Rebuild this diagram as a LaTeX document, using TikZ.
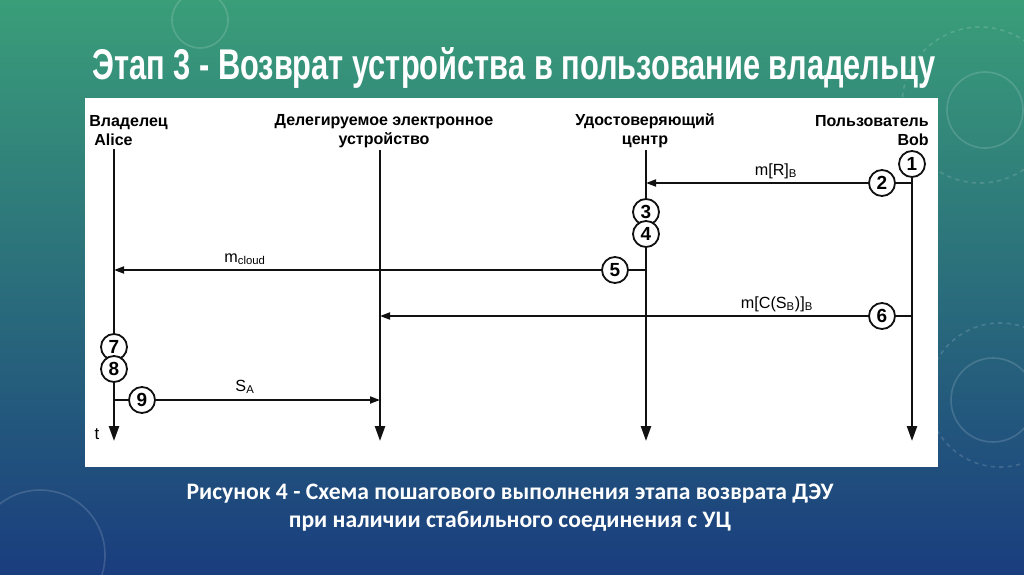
\documentclass[tikz,border=0pt]{standalone}
\usepackage{fontspec}
\setmainfont{Liberation Sans}
\newfontfamily\capfont{Carlito}
\usepackage{xcolor}
\definecolor{cBgTop}{HTML}{3A9E79}
\definecolor{cBgMid}{HTML}{287A82}
\definecolor{cBgBot}{HTML}{1A3D7E}
\definecolor{cLine}{HTML}{111111}
\usetikzlibrary{positioning,arrows.meta,calc}
\newlength\pxu
\setlength\pxu{0.025cm}
\tikzset{
  life-line/.style={line width=0.6mm,draw=cLine,-{Triangle[length=3.75mm,width=2.5mm]}},
  msg-line/.style={line width=0.45mm,draw=cLine},
  msg-arrow/.style={msg-line,-{Triangle[length=2.5mm,width=1.75mm]}},
  node-step/.style={draw=cLine,line width=0.45mm,circle,fill=white,
    minimum size=6.5mm,inner sep=0pt,font=\fontsize{13.5}{13.5}\selectfont\bfseries},
  node-head/.style={font=\fontsize{11.4}{13.5}\selectfont\bfseries,inner sep=0pt},
  node-msg/.style={font=\fontsize{11.5}{13}\selectfont,inner sep=0pt},
  deco/.style={draw=white,opacity=0.15,line width=0.4mm},
}

\begin{document}
\begin{tikzpicture}[x=0.025cm,y=-0.025cm]
  \useasboundingbox (0,0) rectangle (1024,574);
  \shade[top color=cBgTop,middle color=cBgMid,bottom color=cBgBot] (0,0) rectangle (1024,574);
  % decorative rings
  \draw[deco] (985,110) circle (38);
  \draw[deco,dashed] (980,105) circle (78);
  \draw[deco] (993,400) circle (42);
  \draw[deco,dashed] (1000,395) circle (72);
  \draw[deco] (40,555) circle (65);
  \draw[deco] (200,20) circle (28);

  \node[anchor=base west,inner sep=0pt,text=white] (title) at (92,79)
    {\resizebox{843\pxu}{32\pxu}{\bfseries Этап 3 - Возврат устройства в пользование владельцу}};

  \fill[white] (85,98) rectangle (938,467);

  % participants
  \node[node-head,align=left,anchor=west]   (hAlice)  at (89,131)  {Владелец\\\hspace{5\pxu}Alice};
  \node[node-head,align=center]             (hDevice) at (384,131) {Делегируемое электронное\\устройство};
  \node[node-head,align=center]             (hCa)     at (645,131) {Удостоверяющий\\центр};
  \node[node-head,align=right,anchor=east]  (hBob)    at (929,131) {Пользователь\\Bob};

  \coordinate (aliceT) at (114,149);  \coordinate (aliceB) at (114,441);
  \coordinate (devT)   at (380,150);  \coordinate (devB)   at (380,441);
  \coordinate (caT)    at (646,150);  \coordinate (caB)    at (646,441);
  \coordinate (bobB)   at (912,441);

  \draw[life-line] (aliceT) -- (aliceB);
  \draw[life-line] (devT) -- (devB);
  \draw[life-line] (caT) -- (caB);

  \node[node-step] (s1) at (912,164) {1};
  \draw[life-line] (s1.south) -- (bobB);

  \node[node-step] (s2) at (882,183) {2};
  \node[node-step] (s3) at (646,212) {3};
  \node[node-step] (s4) at (646,234) {4};
  \node[node-step] (s5) at (615,270) {5};
  \node[node-step] (s6) at (882,316) {6};
  \node[node-step] (s7) at (114,347) {7};
  \node[node-step] (s8) at (114,369) {8};
  \node[node-step] (s9) at (142,400) {9};

  % messages
  \draw[msg-line]  (s2.east) -- (s2 -| bobB);
  \draw[msg-arrow] (s2.west) -- (s2 -| caB);
  \draw[msg-line]  (s5.east) -- (s5 -| caB);
  \draw[msg-arrow] (s5.west) -- (s5 -| aliceB);
  \draw[msg-line]  (s6.east) -- (s6 -| bobB);
  \draw[msg-arrow] (s6.west) -- (s6 -| devB);
  \draw[msg-line]  (s9.west) -- (s9 -| aliceB);
  \draw[msg-arrow] (s9.east) -- (s9 -| devB);

  \node[node-msg] (lR)     at (776,171) {m[R]\textsubscript{B}};
  \node[node-msg] (lCloud) at (245,259) {m\textsubscript{cloud}};
  \node[node-msg] (lC)     at (777,304) {m[C(S\textsubscript{B})]\textsubscript{B}};
  \node[node-msg] (lS)     at (245,387) {S\textsubscript{A}};
  \node[node-msg,font=\fontsize{12}{12}\selectfont] (lT) at (97,434) {t};

  \node[font=\capfont\bfseries\fontsize{16.8}{19.8}\selectfont,text=white,align=center] (caption) at (510,508)
    {Рисунок 4 - Схема пошагового выполнения этапа возврата ДЭУ\\при наличии стабильного соединения с УЦ};
\end{tikzpicture}
\end{document}
